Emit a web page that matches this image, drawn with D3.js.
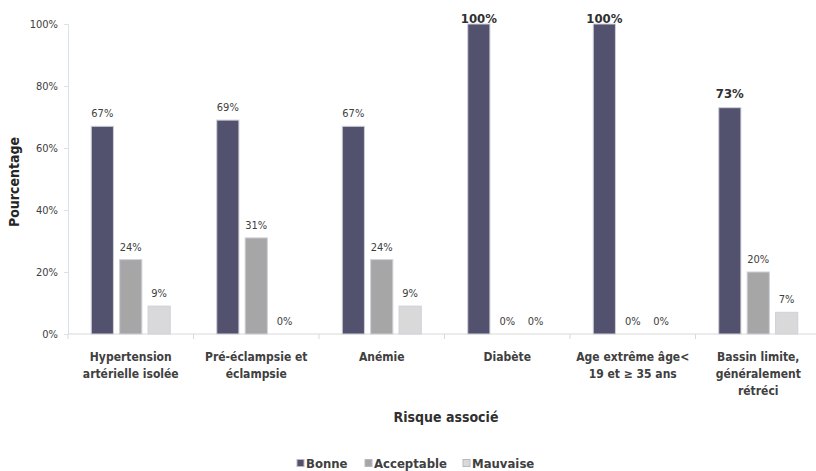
<!DOCTYPE html>
<meta charset="utf-8">
<style>
  body { margin: 0; background: #fff; }
  text { font-family: "DejaVu Sans Condensed", "Liberation Sans Narrow", "Open Sans", sans-serif; }
</style>
<script src="https://d3js.org/d3.v7.min.js"></script>
<div id="chart"></div>
<script>
  // data
  const categories = [
    ["Hypertension", "artérielle isolée"],
    ["Pré-éclampsie et", "éclampsie"],
    ["Anémie"],
    ["Diabète"],
    ["Age extrême âge<", "19 et ≥ 35 ans"],
    ["Bassin limite,", "généralement", "rétréci"]
  ];
  const seriesNames = ["Bonne", "Acceptable", "Mauvaise"];
  const bonne = [67, 69, 67, 100, 100, 73];
  const acceptable = [24, 31, 24, 0, 0, 20];
  const mauvaise = [9, 0, 9, 0, 0, 7];
  const yTicks = [0, 20, 40, 60, 80, 100];
  const colors = ["#52516e", "#a6a6a6", "#d9d9d9"];

  const W = 816, H = 471;
  const margin = {top: 24, right: -5, bottom: 137, left: 68};
  const width = W - margin.left - margin.right,
        height = H - margin.top - margin.bottom;

  const svg = d3.select("#chart").append("svg")
      .attr("width", W).attr("height", H)
    .append("g")
      .attr("transform", `translate(${margin.left},${margin.top})`);

  const x = d3.scaleBand().domain(d3.range(categories.length)).range([0, width]);
  const xs = d3.scaleBand().domain(d3.range(3)).range([0, 79]).paddingInner(0.22);
  const y = d3.scaleLinear().domain([0, 100]).range([height, 0]);

  // y axis
  const yAxis = svg.append("g")
    .call(d3.axisLeft(y).tickValues(yTicks).tickFormat(d => d + "%").tickSize(4).tickPadding(6));
  yAxis.select(".domain").attr("stroke", "#d5e3ea");
  yAxis.selectAll(".tick line").attr("stroke", "#d5e3ea");
  yAxis.selectAll(".tick text").attr("fill", "#404040").style("font-size", "11px");

  // x axis
  const xAxis = svg.append("g").attr("transform", `translate(0,${height})`);
  xAxis.append("line").attr("x1", 0).attr("x2", width).attr("stroke", "#d9d9d9");
  xAxis.selectAll(".sep").data(d3.range(categories.length + 1)).enter()
    .append("line")
      .attr("x1", d => d * x.step()).attr("x2", d => d * x.step())
      .attr("y1", 0).attr("y2", 5).attr("stroke", "#d9d9d9");
  xAxis.selectAll(".cat").data(categories).enter()
    .append("text")
      .attr("text-anchor", "middle")
      .attr("fill", "#404040")
      .style("font-size", "12px").style("font-weight", "bold")
      .attr("transform", (d, i) => `translate(${x(i) + x.bandwidth() / 2},27)`)
    .selectAll("tspan").data(d => d).enter()
      .append("tspan").attr("x", 0).attr("dy", (d, i) => i ? 17 : 0).text(d => d);

  // bars
  const series = [bonne, acceptable, mauvaise];
  const groups = svg.selectAll(".grp").data(categories).enter()
    .append("g")
      .attr("transform", (d, i) => `translate(${x(i) + (x.bandwidth() - 79) / 2},0)`);

  groups.each(function(d, i) {
    const g = d3.select(this);
    series.forEach((s, k) => {
      const v = s[i];
      if (v > 0) {
        g.append("rect")
          .attr("x", xs(k)).attr("width", xs.bandwidth())
          .attr("y", y(v)).attr("height", height - y(v))
          .attr("fill", colors[k])
          .attr("stroke", "#cfd0da").attr("stroke-width", 1);
      }
      const big = v === 100 || (k === 0 && i === 5);
      g.append("text")
        .attr("x", xs(k) + xs.bandwidth() / 2)
        .attr("y", Math.max(y(v) - (big ? 10 : 9), -1))
        .attr("text-anchor", "middle")
        .attr("fill", big ? "#303030" : "#404040")
        .style("font-size", big ? "13px" : "11px")
        .style("font-weight", big ? "bold" : "normal")
        .text(v + "%");
    });
  });

  // axis titles
  svg.append("text")
    .attr("transform", `translate(${19 - margin.left},${182 - margin.top}) rotate(-90)`)
    .attr("text-anchor", "middle")
    .attr("fill", "#262626")
    .style("font-size", "14px").style("font-weight", "bold")
    .text("Pourcentage");

  svg.append("text")
    .attr("x", 446 - margin.left).attr("y", 422 - margin.top)
    .attr("text-anchor", "middle")
    .attr("fill", "#303030")
    .style("font-size", "14px").style("font-weight", "bold")
    .text("Risque associé");

  // legend
  const legendX = [297, 365, 463];
  const legend = svg.selectAll(".leg").data(seriesNames).enter()
    .append("g")
      .attr("transform", (d, i) => `translate(${legendX[i] - margin.left},${463 - margin.top})`);
  legend.append("rect")
    .attr("x", 0).attr("y", -3.5).attr("width", 7).attr("height", 7)
    .attr("fill", (d, i) => colors[i]).attr("stroke", "#b8b8c4");
  legend.append("text")
    .attr("x", 9).attr("y", 4.5)
    .attr("fill", "#404040")
    .style("font-size", "13px").style("font-weight", "bold")
    .text(d => d);
</script>
